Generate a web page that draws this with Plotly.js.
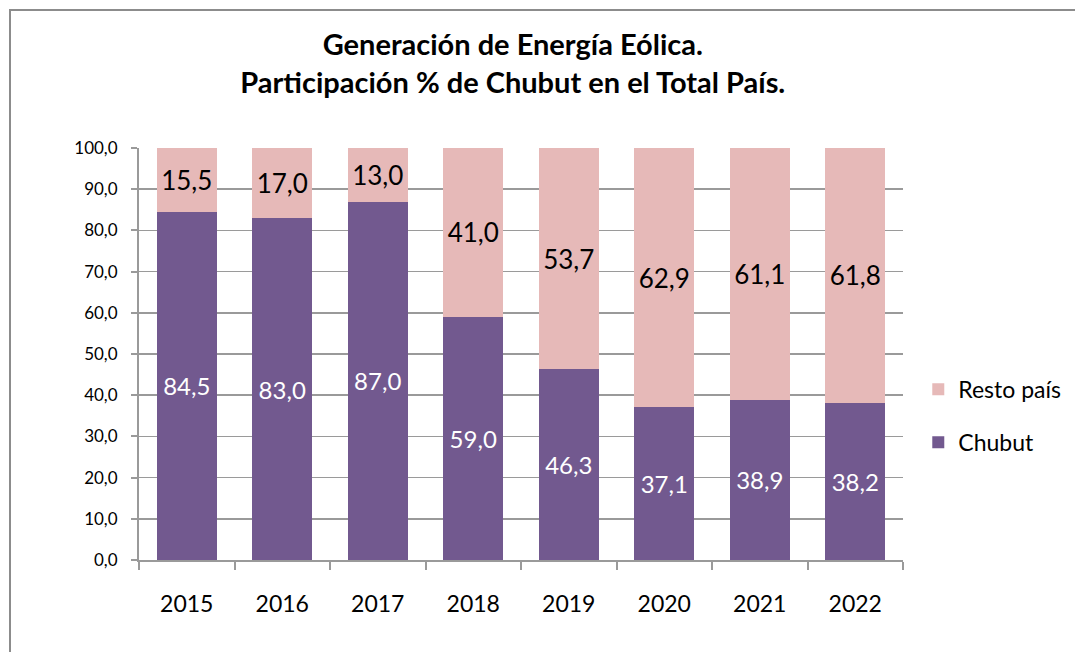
<!DOCTYPE html>
<html><head><meta charset="utf-8">
<script src="https://cdn.plot.ly/plotly-3.0.1.min.js"></script>
<style>
html,body{margin:0;padding:0;background:#fff;}
#wrap{position:relative;width:1075px;height:652px;overflow:hidden;}
#frame{position:absolute;left:9px;top:9px;width:1200px;height:800px;border-left:2px solid #8c8c8c;border-top:2px solid #8c8c8c;pointer-events:none;z-index:5;}
#chart{position:absolute;left:0;top:0;width:1075px;height:652px;}
</style></head>
<body>
<div id="wrap"><div id="chart"></div><div id="frame"></div></div>
<script>
const years = ["2015","2016","2017","2018","2019","2020","2021","2022"];
const chubut = [84.5, 83.0, 87.0, 59.0, 46.3, 37.1, 38.9, 38.2];
const resto = [15.5, 17.0, 13.0, 41.0, 53.7, 62.9, 61.1, 61.8];
const FONT = "Lato, 'Open Sans', sans-serif";

const traces = [
  {type:"bar", name:"Chubut", x:years, y:chubut, legendgroup:"a", legendrank:2,
   marker:{color:"#72598F"},
   texttemplate:"%{y:.1f}", textposition:"inside", insidetextanchor:"middle",
   textfont:{color:"#ffffff", size:24, family:FONT}, constraintext:"none", hoverinfo:"none"},
  {type:"bar", name:"Resto país", x:years, y:resto, legendgroup:"b", legendrank:1,
   marker:{color:"#E6B9B8"},
   texttemplate:"%{y:.1f}", textposition:"inside", insidetextanchor:"middle",
   textfont:{color:"#000000", size:26, family:FONT}, constraintext:"none", hoverinfo:"none"}
];

const layout = {
  width:1075, height:652,
  margin:{l:139, r:172, t:148, b:92, autoexpand:false},
  paper_bgcolor:"#ffffff", plot_bgcolor:"#ffffff",
  separators:",.",
  font:{family:FONT, color:"#000"},
  barmode:"stack", bargap:0.37,
  title:{text:"<b>Generación de Energía Eólica.<br>Participación % de Chubut en el Total País.</b>",
    font:{size:29, family:FONT, color:"#000"}, x:0.477, xanchor:"center", y:0.915, yanchor:"middle"},
  xaxis:{type:"category", showline:true, linecolor:"#9a9a9a", linewidth:2,
    ticks:"outside", tickson:"boundaries", ticklen:8, tickcolor:"#9a9a9a", tickwidth:2,
    ticklabelstandoff:22, automargin:false,
    tickfont:{size:23, family:FONT, color:"#000"}, showgrid:false, fixedrange:true},
  yaxis:{range:[0,100], dtick:10, tickformat:".1f", showline:true, linecolor:"#9a9a9a", linewidth:2,
    ticks:"outside", ticklen:6, tickcolor:"#9a9a9a", tickwidth:2, ticklabelstandoff:10, automargin:false,
    showgrid:true, gridcolor:"#9a9a9a", gridwidth:1.5, zeroline:false,
    tickfont:{size:17, family:FONT, color:"#000"}, fixedrange:true},
  legend:{x:1.02, xanchor:"left", y:0.35, yanchor:"middle", tracegroupgap:20, traceorder:"grouped",
    font:{size:23, family:FONT, color:"#000"}, bgcolor:"rgba(0,0,0,0)"},
  showlegend:true
};
Plotly.newPlot("chart", traces, layout, {displayModeBar:false, staticPlot:true});
</script>
</body></html>
